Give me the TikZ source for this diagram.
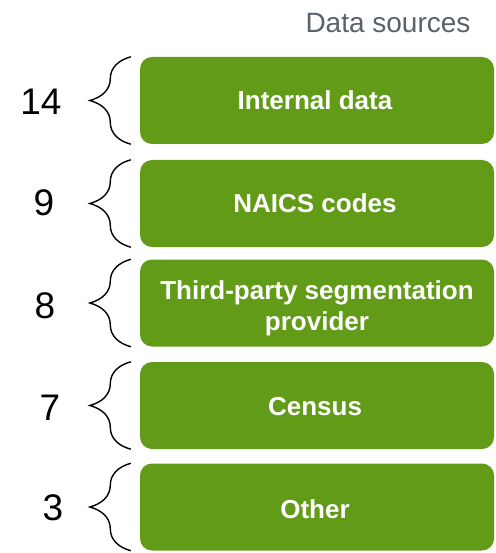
\documentclass[tikz,border=0pt]{standalone}
\usepackage{fontspec}
\setmainfont{Liberation Sans}
\usetikzlibrary{decorations.pathreplacing,calc}
\definecolor{srcgreen}{HTML}{619B18}
\definecolor{titlegray}{HTML}{59616A}
\tikzset{
  srcbox/.style={fill=srcgreen, draw=none, rounded corners=12pt,
    minimum width=354pt, minimum height=87pt, inner sep=0pt},
  srctext/.style={text=white, font=\fontsize{26}{31}\selectfont\bfseries,
    align=center, inner sep=0pt},
  countlabel/.style={font=\fontsize{37}{40}\selectfont, text=black, inner sep=0pt},
  curly/.style={draw=black, line width=1.4pt,
    decorate, decoration={brace, amplitude=41pt, aspect=0.5}},
}
\begin{document}
\begin{tikzpicture}[x=1pt,y=-1pt]
  \useasboundingbox (0,0) rectangle (495,553);
  \node[font=\fontsize{28}{30}\selectfont, text=titlegray] (title) at (388,23) {Data sources};

  % source boxes with their labels
  \node[srcbox] (b1) at (317,100.5) {};
  \node[srcbox] (b2) at (317,203.5) {};
  \node[srcbox] (b3) at (317,303) {};
  \node[srcbox] (b4) at (317,405.5) {};
  \node[srcbox] (b5) at (317,507) {};
  \node[srctext] (t1) at ($(b1.center)+(-2,0)$) {Internal data};
  \node[srctext] (t2) at ($(b2.center)+(-2,0)$) {NAICS codes};
  \node[srctext] (t3) at ($(b3.center)+(0,5)$) {Third-party segmentation\\provider};
  \node[srctext] (t4) at ($(b4.center)+(-2,1)$) {Census};
  \node[srctext] (t5) at ($(b5.center)+(-2,2)$) {Other};

  % counts
  \node[countlabel] (n1) at (41,102) {14};
  \node[countlabel] (n2) at (44,203) {9};
  \node[countlabel] (n3) at (45,306) {8};
  \node[countlabel] (n4) at (50,408) {7};
  \node[countlabel] (n5) at (53,508) {3};

  % braces joining each count to its box
  \foreach \b in {b1,b2,b3,b4,b5} {
    \coordinate (\b top) at ($(\b.north west)+(-9,0)$);
    \coordinate (\b bot) at ($(\b.south west)+(-9,0)$);
    \draw[curly] (\b bot) -- (\b top);
  }
\end{tikzpicture}
\end{document}
